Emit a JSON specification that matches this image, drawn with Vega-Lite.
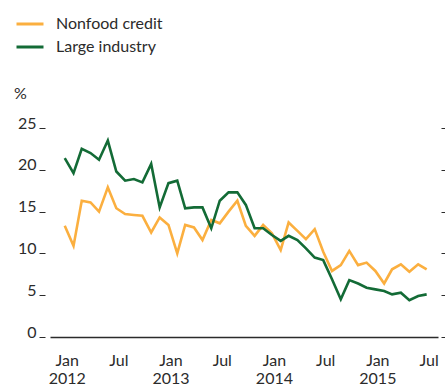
{
  "$schema": "https://vega.github.io/schema/vega-lite/v6.json",
  "autosize": "none",
  "width": 388,
  "height": 209,
  "padding": {"left": 50, "top": 128, "right": 7, "bottom": 50},
  "config": {
    "view": {"stroke": null},
    "font": "Lato",
    "axis": {"labelFont": "Lato", "titleFont": "Lato", "labelColor": "#2b2b2b", "titleColor": "#2b2b2b", "grid": false}
  },
  "data": {"values": [
    {"date": "2012-01-01", "series": "Nonfood credit", "value": 13.3},
    {"date": "2012-02-01", "series": "Nonfood credit", "value": 10.9},
    {"date": "2012-03-01", "series": "Nonfood credit", "value": 16.3},
    {"date": "2012-04-01", "series": "Nonfood credit", "value": 16.1},
    {"date": "2012-05-01", "series": "Nonfood credit", "value": 15.0},
    {"date": "2012-06-01", "series": "Nonfood credit", "value": 17.9},
    {"date": "2012-07-01", "series": "Nonfood credit", "value": 15.4},
    {"date": "2012-08-01", "series": "Nonfood credit", "value": 14.7},
    {"date": "2012-09-01", "series": "Nonfood credit", "value": 14.6},
    {"date": "2012-10-01", "series": "Nonfood credit", "value": 14.5},
    {"date": "2012-11-01", "series": "Nonfood credit", "value": 12.5},
    {"date": "2012-12-01", "series": "Nonfood credit", "value": 14.3},
    {"date": "2013-01-01", "series": "Nonfood credit", "value": 13.4},
    {"date": "2013-02-01", "series": "Nonfood credit", "value": 10.0},
    {"date": "2013-03-01", "series": "Nonfood credit", "value": 13.4},
    {"date": "2013-04-01", "series": "Nonfood credit", "value": 13.1},
    {"date": "2013-05-01", "series": "Nonfood credit", "value": 11.6},
    {"date": "2013-06-01", "series": "Nonfood credit", "value": 14.0},
    {"date": "2013-07-01", "series": "Nonfood credit", "value": 13.6},
    {"date": "2013-08-01", "series": "Nonfood credit", "value": 15.0},
    {"date": "2013-09-01", "series": "Nonfood credit", "value": 16.3},
    {"date": "2013-10-01", "series": "Nonfood credit", "value": 13.3},
    {"date": "2013-11-01", "series": "Nonfood credit", "value": 12.1},
    {"date": "2013-12-01", "series": "Nonfood credit", "value": 13.4},
    {"date": "2014-01-01", "series": "Nonfood credit", "value": 12.4},
    {"date": "2014-02-01", "series": "Nonfood credit", "value": 10.4},
    {"date": "2014-03-01", "series": "Nonfood credit", "value": 13.7},
    {"date": "2014-04-01", "series": "Nonfood credit", "value": 12.7},
    {"date": "2014-05-01", "series": "Nonfood credit", "value": 11.7},
    {"date": "2014-06-01", "series": "Nonfood credit", "value": 12.9},
    {"date": "2014-07-01", "series": "Nonfood credit", "value": 10.2},
    {"date": "2014-08-01", "series": "Nonfood credit", "value": 7.9},
    {"date": "2014-09-01", "series": "Nonfood credit", "value": 8.6},
    {"date": "2014-10-01", "series": "Nonfood credit", "value": 10.3},
    {"date": "2014-11-01", "series": "Nonfood credit", "value": 8.6},
    {"date": "2014-12-01", "series": "Nonfood credit", "value": 8.9},
    {"date": "2015-01-01", "series": "Nonfood credit", "value": 7.9},
    {"date": "2015-02-01", "series": "Nonfood credit", "value": 6.4},
    {"date": "2015-03-01", "series": "Nonfood credit", "value": 8.1},
    {"date": "2015-04-01", "series": "Nonfood credit", "value": 8.7},
    {"date": "2015-05-01", "series": "Nonfood credit", "value": 7.8},
    {"date": "2015-06-01", "series": "Nonfood credit", "value": 8.7},
    {"date": "2015-07-01", "series": "Nonfood credit", "value": 8.1},
    {"date": "2012-01-01", "series": "Large industry", "value": 21.4},
    {"date": "2012-02-01", "series": "Large industry", "value": 19.6},
    {"date": "2012-03-01", "series": "Large industry", "value": 22.5},
    {"date": "2012-04-01", "series": "Large industry", "value": 22.0},
    {"date": "2012-05-01", "series": "Large industry", "value": 21.2},
    {"date": "2012-06-01", "series": "Large industry", "value": 23.5},
    {"date": "2012-07-01", "series": "Large industry", "value": 19.8},
    {"date": "2012-08-01", "series": "Large industry", "value": 18.7},
    {"date": "2012-09-01", "series": "Large industry", "value": 18.9},
    {"date": "2012-10-01", "series": "Large industry", "value": 18.5},
    {"date": "2012-11-01", "series": "Large industry", "value": 20.7},
    {"date": "2012-12-01", "series": "Large industry", "value": 15.5},
    {"date": "2013-01-01", "series": "Large industry", "value": 18.4},
    {"date": "2013-02-01", "series": "Large industry", "value": 18.7},
    {"date": "2013-03-01", "series": "Large industry", "value": 15.4},
    {"date": "2013-04-01", "series": "Large industry", "value": 15.5},
    {"date": "2013-05-01", "series": "Large industry", "value": 15.5},
    {"date": "2013-06-01", "series": "Large industry", "value": 13.0},
    {"date": "2013-07-01", "series": "Large industry", "value": 16.3},
    {"date": "2013-08-01", "series": "Large industry", "value": 17.3},
    {"date": "2013-09-01", "series": "Large industry", "value": 17.3},
    {"date": "2013-10-01", "series": "Large industry", "value": 15.8},
    {"date": "2013-11-01", "series": "Large industry", "value": 13.0},
    {"date": "2013-12-01", "series": "Large industry", "value": 13.0},
    {"date": "2014-01-01", "series": "Large industry", "value": 12.2},
    {"date": "2014-02-01", "series": "Large industry", "value": 11.5},
    {"date": "2014-03-01", "series": "Large industry", "value": 12.1},
    {"date": "2014-04-01", "series": "Large industry", "value": 11.6},
    {"date": "2014-05-01", "series": "Large industry", "value": 10.6},
    {"date": "2014-06-01", "series": "Large industry", "value": 9.5},
    {"date": "2014-07-01", "series": "Large industry", "value": 9.2},
    {"date": "2014-08-01", "series": "Large industry", "value": 6.9},
    {"date": "2014-09-01", "series": "Large industry", "value": 4.5},
    {"date": "2014-10-01", "series": "Large industry", "value": 6.8},
    {"date": "2014-11-01", "series": "Large industry", "value": 6.4},
    {"date": "2014-12-01", "series": "Large industry", "value": 5.9},
    {"date": "2015-01-01", "series": "Large industry", "value": 5.7},
    {"date": "2015-02-01", "series": "Large industry", "value": 5.5},
    {"date": "2015-03-01", "series": "Large industry", "value": 5.1},
    {"date": "2015-04-01", "series": "Large industry", "value": 5.3},
    {"date": "2015-05-01", "series": "Large industry", "value": 4.4},
    {"date": "2015-06-01", "series": "Large industry", "value": 4.9},
    {"date": "2015-07-01", "series": "Large industry", "value": 5.1}
  ]},
  "encoding": {
    "x": {
      "field": "date", "type": "temporal",
      "scale": {"type": "utc", "domain": [{"year": 2011, "month": 11, "date": 10, "utc": true}, {"year": 2015, "month": 8, "date": 10, "utc": true}]},
      "axis": {
        "title": null,
        "values": [
          {"year": 2012, "month": 1, "date": 1, "utc": true},
          {"year": 2012, "month": 7, "date": 1, "utc": true},
          {"year": 2013, "month": 1, "date": 1, "utc": true},
          {"year": 2013, "month": 7, "date": 1, "utc": true},
          {"year": 2014, "month": 1, "date": 1, "utc": true},
          {"year": 2014, "month": 7, "date": 1, "utc": true},
          {"year": 2015, "month": 1, "date": 1, "utc": true},
          {"year": 2015, "month": 7, "date": 1, "utc": true}
        ],
        "labelExpr": "utcmonth(datum.value) == 0 ? ['Jan', '' + utcyear(datum.value)] : 'Jul'",
        "labelFontSize": 16,
        "labelLineHeight": 18,
        "labelPadding": 15,
        "labelOffset": 2,
        "labelBaseline": "top",
        "labelAlign": "center",
        "ticks": false,
        "domainColor": "#2b2b2b",
        "domainWidth": 1.5
      }
    },
    "color": {
      "field": "series", "type": "nominal",
      "scale": {"domain": ["Nonfood credit", "Large industry"], "range": ["#FBAF3F", "#136B36"]},
      "legend": {
        "title": null,
        "orient": "none",
        "legendX": -35,
        "legendY": -119,
        "symbolType": "stroke",
        "symbolSize": 729,
        "symbolStrokeWidth": 3,
        "labelFont": "Lato",
        "labelFontSize": 16,
        "labelColor": "#2b2b2b",
        "labelOffset": 11,
        "rowPadding": -3
      }
    }
  },
  "layer": [
    {
      "transform": [{"filter": "datum.series == 'Nonfood credit'"}],
      "mark": {"type": "line", "strokeWidth": 2.6},
      "encoding": {
        "y": {
          "field": "value", "type": "quantitative",
          "scale": {"domain": [0, 25], "nice": false},
          "axis": {
            "orient": "left", "offset": 5, "domain": false, "values": [0, 5, 10, 15, 20, 25],
            "tickSize": 6, "tickColor": "#2b2b2b", "tickWidth": 1,
            "labelPadding": 3, "labelBaseline": "alphabetic", "labelFontSize": 16,
            "title": "%", "titleAngle": 0, "titleX": -25, "titleY": -35,
            "titleAlign": "center", "titleBaseline": "middle", "titleFontWeight": "normal", "titleFontSize": 16
          }
        }
      }
    },
    {
      "transform": [{"filter": "datum.series == 'Large industry'"}],
      "mark": {"type": "line", "strokeWidth": 2.6},
      "encoding": {
        "y": {
          "field": "value", "type": "quantitative",
          "scale": {"domain": [0, 25], "nice": false},
          "axis": {
            "orient": "right", "offset": 3, "domain": false, "values": [0, 5, 10, 15, 20, 25],
            "tickSize": 6, "tickColor": "#2b2b2b", "tickWidth": 1,
            "labels": false, "title": null
          }
        }
      }
    }
  ],
  "resolve": {"scale": {"y": "independent"}}
}
